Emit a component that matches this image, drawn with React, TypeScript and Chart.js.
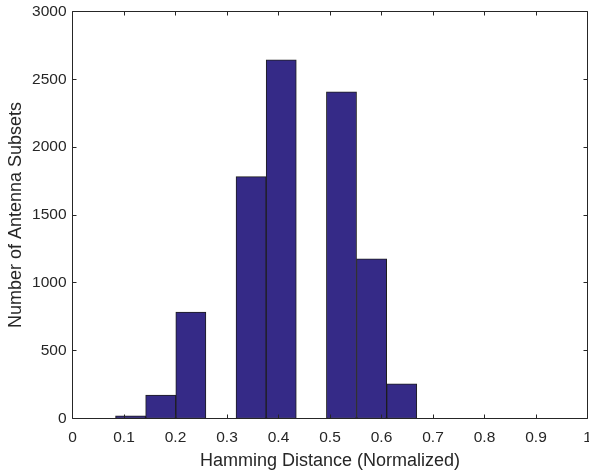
import React, { useEffect, useRef } from 'react';
import { Chart, registerables } from 'chart.js';

Chart.register(...registerables);

// Histogram bins (centres) and counts
const binCenters = [0.1128, 0.1713, 0.2298, 0.2883, 0.3468, 0.4053, 0.4638, 0.5223, 0.5808, 0.6393];
const counts = [20, 172, 784, 0, 1783, 2643, 0, 2407, 1177, 256];

const xTickValues = [0, 0.1, 0.2, 0.3, 0.4, 0.5, 0.6, 0.7, 0.8, 0.9, 1];
const xTickLabels = ['0', '0.1', '0.2', '0.3', '0.4', '0.5', '0.6', '0.7', '0.8', '0.9', '1'];
const yTickValues = [0, 500, 1000, 1500, 2000, 2500, 3000];
const yTickLabels = ['0', '500', '1000', '1500', '2000', '2500', '3000'];

const xTitle = 'Hamming Distance (Normalized)';
const yTitle = 'Number of Antenna Subsets';

const AXIS = '#262626';
const BAR_FILL = '#352a87';
const BAR_EDGE = '#1e1e1e';
const FONT = '"Liberation Sans", Arial, Helvetica, sans-serif';

const boxPlugin = {
  id: 'matlabBox',
  afterDatasetsDraw(chart: any) {
    const { ctx, chartArea } = chart;
    const { left, right, top, bottom } = chartArea;
    const xs = chart.scales.x;
    const ys = chart.scales.y;
    const tl = 4;
    ctx.save();
    ctx.strokeStyle = AXIS;
    ctx.lineWidth = 1;
    ctx.beginPath();
    ctx.rect(left, top, right - left, bottom - top);
    xs.ticks.forEach((t: any) => {
      const px = Math.floor(xs.getPixelForValue(t.value)) + 0.5;
      ctx.moveTo(px, bottom);
      ctx.lineTo(px, bottom - tl);
      ctx.moveTo(px, top);
      ctx.lineTo(px, top + tl);
    });
    ys.ticks.forEach((t: any) => {
      const py = Math.floor(ys.getPixelForValue(t.value)) + 0.5;
      ctx.moveTo(left, py);
      ctx.lineTo(left + tl, py);
      ctx.moveTo(right, py);
      ctx.lineTo(right - tl, py);
    });
    ctx.stroke();
    ctx.restore();
  },
};

export default function App() {
  const canvasRef = useRef<HTMLCanvasElement | null>(null);

  useEffect(() => {
    const canvas = canvasRef.current;
    if (!canvas) return;
    const chart = new Chart(canvas, {
      type: 'bar',
      data: {
        datasets: [
          {
            data: binCenters.map((c, i) => ({ x: c, y: counts[i] })),
            backgroundColor: BAR_FILL,
            borderColor: BAR_EDGE,
            borderWidth: 1,
            borderSkipped: false,
            barPercentage: 1,
            categoryPercentage: 1,
          },
        ],
      },
      options: {
        responsive: false,
        animation: false,
        devicePixelRatio: 1,
        layout: { padding: { left: 0, top: 11.5, right: 1.5, bottom: 0 } },
        plugins: {
          legend: { display: false },
          tooltip: { enabled: false },
          title: { display: false },
        },
        scales: {
          x: {
            type: 'linear',
            min: 0,
            max: 1,
            offset: false,
            grid: { display: false, drawTicks: false, offset: false },
            border: { display: false },
            afterBuildTicks: (scale: any) => {
              scale.ticks = xTickValues.map((v) => ({ value: v }));
            },
            afterFit: (scale: any) => {
              scale.height = 55.5;
              scale.paddingLeft = 0;
              scale.paddingRight = 0;
            },
            ticks: {
              autoSkip: false,
              maxRotation: 0,
              padding: 9.5,
              color: AXIS,
              font: { family: FONT, size: 15.5 },
              callback: (_v: any, i: number) => xTickLabels[i],
            },
            title: {
              display: true,
              text: xTitle,
              color: AXIS,
              font: { family: FONT, size: 18 },
              padding: { top: 0, bottom: 2 },
            },
          },
          y: {
            type: 'linear',
            min: 0,
            max: 3000,
            grid: { display: false, drawTicks: false },
            border: { display: false },
            afterBuildTicks: (scale: any) => {
              scale.ticks = yTickValues.map((v) => ({ value: v }));
            },
            afterFit: (scale: any) => {
              scale.width = 72.5;
              scale.paddingTop = 0;
              scale.paddingBottom = 0;
            },
            ticks: {
              autoSkip: false,
              padding: 6,
              color: AXIS,
              font: { family: FONT, size: 15.5 },
              callback: (_v: any, i: number) => yTickLabels[i],
            },
            title: {
              display: true,
              text: yTitle,
              color: AXIS,
              font: { family: FONT, size: 18 },
              padding: { top: 5, bottom: 0 },
            },
          },
        },
      },
      plugins: [boxPlugin],
    } as any);
    return () => chart.destroy();
  }, []);

  return (
    <div style={{ position: 'fixed', left: 0, top: 0, width: 589, height: 474, background: '#fff' }}>
      <canvas ref={canvasRef} width={589} height={474} style={{ display: 'block' }} />
    </div>
  );
}
